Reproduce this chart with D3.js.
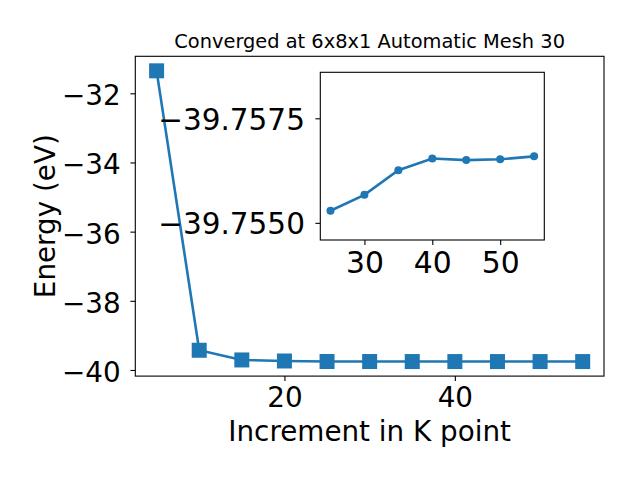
<!DOCTYPE html>
<html><head><meta charset="utf-8">
<script src="https://cdn.jsdelivr.net/npm/d3@7"></script>
<style>body{margin:0;background:#fff}svg{display:block}text{font-family:"DejaVu Sans",sans-serif;fill:#000}</style>
</head><body>
<script>
const kPoints = [5,10,15,20,25,30,35,40,45,50,55];
const energies = [-31.35,-39.43,-39.71,-39.74,-39.7553,-39.7557,-39.7563,-39.7565,-39.7565,-39.7565,-39.7566];
const insetK = [25,30,35,40,45,50,55];
const insetE = [-39.75529,-39.75567,-39.75626,-39.75654,-39.75650,-39.75652,-39.75659];
const mainXTicks = [20,40];
const mainYTicks = [-40,-38,-36,-34,-32];
const insetXTicks = [30,40,50];
const insetYTicks = [-39.7575,-39.7550];
const title = "Converged at 6x8x1 Automatic Mesh 30";
const xLabel = "Increment in K point";
const yLabel = "Energy (eV)";

const W=640,H=480, color="#1f77b4";
const svg=d3.select("body").append("svg").attr("width",W).attr("height",H);
const fmtMinus = v => String(v).replace("-","\u2212");

// main axes
const x=d3.scaleLinear().domain([2.5,57.5]).range([135.3,604]);
const y=d3.scaleLinear().domain([-40.177,-30.93]).range([376.1,56.3]);
const [x0,x1]=x.range(), [y0,y1]=[y.range()[1],y.range()[0]];

const gx=svg.append("g").attr("transform",`translate(0,${y1})`)
  .call(d3.axisBottom(x).tickValues(mainXTicks).tickSize(4.9).tickPadding(4.9).tickFormat(d=>fmtMinus(d)));
gx.select(".domain").remove();
gx.selectAll("text").attr("dy",null).attr("y",31).style("font-size","27.8px").style("font-family","DejaVu Sans");
const gy=svg.append("g").attr("transform",`translate(${x0},0)`)
  .call(d3.axisLeft(y).tickValues(mainYTicks).tickSize(4.9).tickPadding(9.7).tickFormat(d=>fmtMinus(d)));
gy.select(".domain").remove();
gy.selectAll("text").attr("dy",null).attr("y",11.5).style("font-size","27.8px").style("font-family","DejaVu Sans");
svg.selectAll(".tick line").attr("stroke","#000").attr("stroke-width",1.1);

const line=d3.line().x((d,i)=>x(kPoints[i])).y(d=>y(d));
svg.append("path").datum(energies).attr("d",line).attr("fill","none").attr("stroke",color).attr("stroke-width",2.6);
svg.append("g").selectAll("rect").data(energies).join("rect")
  .attr("x",(d,i)=>x(kPoints[i])-7.5).attr("y",d=>y(d)-7.5).attr("width",15).attr("height",15)
  .attr("fill",color);

svg.append("rect").attr("x",x0).attr("y",y0).attr("width",x1-x0).attr("height",y1-y0)
  .attr("fill","none").attr("stroke","#000").attr("stroke-width",1.1);

svg.append("text").attr("x",(x0+x1)/2).attr("y",48).attr("text-anchor","middle").style("font-size","19.4px").text(title);
svg.append("text").attr("x",(x0+x1)/2).attr("y",441).attr("text-anchor","middle").style("font-size","27.8px").text(xLabel);
svg.append("text").attr("transform",`translate(55,${(y0+y1)/2}) rotate(-90)`).attr("text-anchor","middle").style("font-size","27.8px").text(yLabel);

// inset axes (y increases downward as in reference)
const ix=d3.scaleLinear().domain([23.5,56.5]).range([320.3,544.3]);
const iy=d3.scaleLinear().domain([-39.7586,-39.75459]).range([72.3,240]);
const [ix0,ix1]=ix.range(), [iy0,iy1]=iy.range();
svg.append("rect").attr("x",ix0).attr("y",iy0).attr("width",ix1-ix0).attr("height",iy1-iy0).attr("fill","#fff");
const igx=svg.append("g").attr("transform",`translate(0,${iy1})`)
  .call(d3.axisBottom(ix).tickValues(insetXTicks).tickSize(4.9).tickPadding(4.9).tickFormat(d=>fmtMinus(d)));
igx.select(".domain").remove();
igx.selectAll("text").attr("dy",null).attr("y",33).style("font-size","29.8px").style("font-family","DejaVu Sans");
const igy=svg.append("g").attr("transform",`translate(${ix0},0)`)
  .call(d3.axisLeft(iy).tickValues(insetYTicks).tickSize(4.9).tickPadding(10.5).tickFormat(d3.format(".4f")));
igy.select(".domain").remove();
igy.selectAll("text").attr("dy",null).attr("y",11).style("font-size","29.5px").style("font-family","DejaVu Sans");
svg.selectAll(".tick line").attr("stroke","#000").attr("stroke-width",1.1);

const iline=d3.line().x((d,i)=>ix(insetK[i])).y(d=>iy(d));
svg.append("path").datum(insetE).attr("d",iline).attr("fill","none").attr("stroke",color).attr("stroke-width",2.6);
svg.append("g").selectAll("circle").data(insetE).join("circle")
  .attr("cx",(d,i)=>ix(insetK[i])).attr("cy",d=>iy(d)).attr("r",4).attr("fill",color);
svg.append("rect").attr("x",ix0).attr("y",iy0).attr("width",ix1-ix0).attr("height",iy1-iy0)
  .attr("fill","none").attr("stroke","#000").attr("stroke-width",1.1);
</script>
</body></html>
